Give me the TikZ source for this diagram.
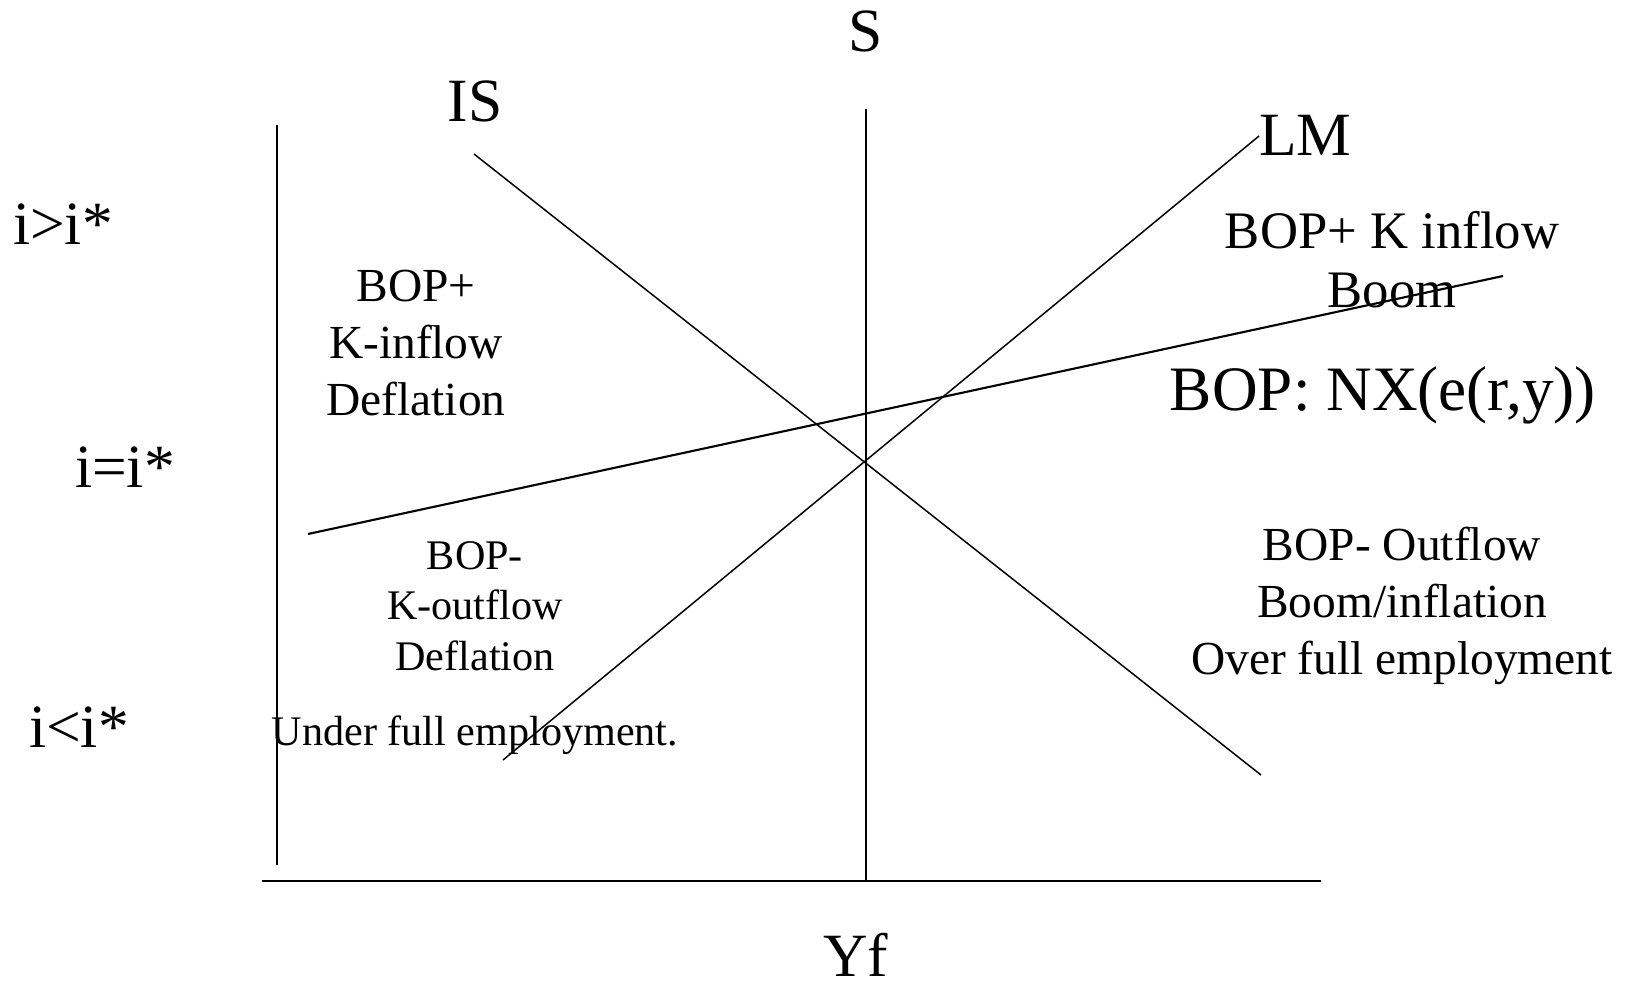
\documentclass[tikz,border=0pt]{standalone}
\usepackage{fontspec}
\setmainfont{Liberation Serif}
\usepackage{tikz}
\usetikzlibrary{positioning}
\tikzset{
  big/.style={font=\fontsize{35}{42}\selectfont, inner sep=0pt},
  txt/.style={font=\fontsize{27}{32.3}\selectfont, align=center, inner sep=0pt},
  curve/.style={line width=0.85pt},
  axis/.style={line width=1.6pt},
}

\begin{document}
\begin{tikzpicture}[x=0.02cm, y=-0.02cm]
    \useasboundingbox (0,0) rectangle (1631,989);
    % end points of the lines
    \coordinate (yaxtop) at (277,125);
    \coordinate (yaxbot) at (277,865);
    \coordinate (xaxl) at (262,881);
    \coordinate (xaxr) at (1321,881);
    \coordinate (Stop) at (866,109);
    \coordinate (Sbot) at (866,881);
    \coordinate (IStop) at (474,154);
    \coordinate (ISbot) at (1261,775);
    \coordinate (LMbot) at (503,760);
    \coordinate (LMtop) at (1259,136);
    \coordinate (BPl) at (308,534);
    \coordinate (BPr) at (1503,276);
    \draw[curve] (yaxtop) -- (yaxbot);
    \draw[axis] (xaxl) -- (xaxr);
    \draw[curve] (Stop) -- (Sbot);
    \draw[curve] (IStop) -- (ISbot);
    \draw[curve] (LMbot) -- (LMtop);
    \draw[curve, line width=1.2pt] (BPl) -- (BPr);
    % curve labels
    \node[big, anchor=base] (lS) at (866,52) {S};
    \node[big, anchor=base] (lIS) at (475,122) {IS};
    \node[big, anchor=base west] (lLM) at (1259,156) {LM};
    \node[big, anchor=base] (lYf) at (856,976) {Yf};
    \node[big, anchor=base] (rhi) at (63,245) {i>i*};
    \node[big, anchor=base] (req) at (125,487) {i=i*};
    \node[big, anchor=base] (rlo) at (79,747) {i<i*};
    % regions
    \node[txt] (nw) at (416,343) {BOP+\\K-inflow\\Deflation};
    \node[txt, font=\fontsize{24}{28.6}\selectfont] (sw) at (475,606) {BOP-\\K-outflow\\Deflation};
    \node[txt, font=\fontsize{24}{28.6}\selectfont, anchor=base] (swu) at (475,745) {Under full employment.};
    \node[txt, font=\fontsize{30}{33.4}\selectfont] (ne) at (1392,260) {BOP+ K inflow\\Boom};
    \node[txt, font=\fontsize{36}{42}\selectfont, anchor=base] (bop) at (1383,410) {BOP: NX(e(r,y))};
    \node[txt] (se) at (1402,606) {BOP- Outflow\\Boom/inflation\\Over full employment};
\end{tikzpicture}
\end{document}
